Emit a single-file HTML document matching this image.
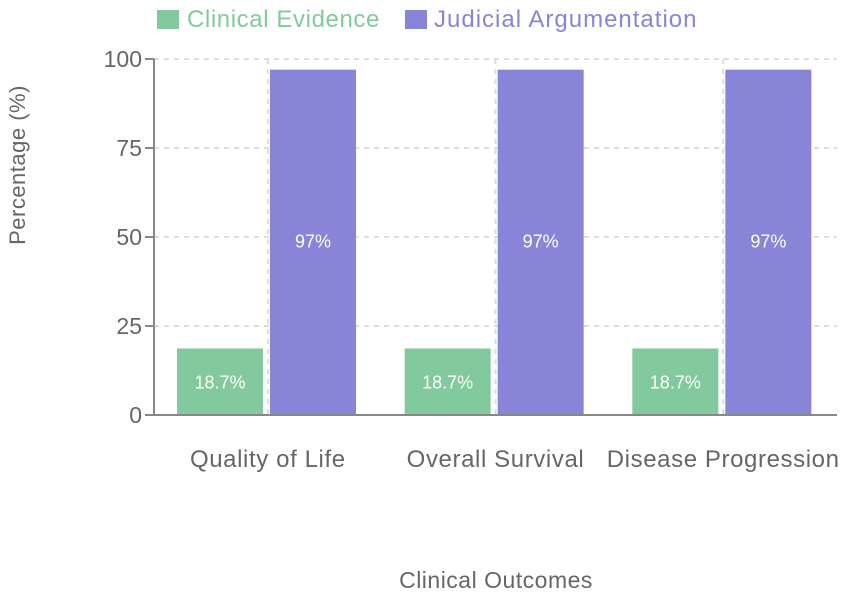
<!DOCTYPE html>
<html><head><meta charset="utf-8"><style>
body{margin:0;background:#fff;width:851px;height:596px;overflow:hidden;font-family:"Liberation Sans",sans-serif}
svg text{font-family:"Liberation Sans",sans-serif}
</style></head><body>
<svg id="chart" width="851" height="596" xmlns="http://www.w3.org/2000/svg">
<g>
<rect x="157" y="10" width="22" height="19" fill="#82ca9d"/>
<text x="187" y="27" font-size="24" letter-spacing="0.6" fill="#82ca9d">Clinical Evidence</text>
<rect x="405" y="10" width="22" height="19" fill="#8884d8"/>
<text x="434" y="27" font-size="24" letter-spacing="1" fill="#8884d8">Judicial Argumentation</text>
</g>
<g id="grid"></g>
<g id="bars"></g>
<g id="axes"></g>
<text transform="translate(25,165) rotate(-90)" text-anchor="middle" font-size="22" letter-spacing="0.5" fill="#666">Percentage (%)</text>
<text x="496" y="588" text-anchor="middle" font-size="23" letter-spacing="0.5" fill="#666">Clinical Outcomes</text>
</svg>
<script>
const categories=["Quality of Life","Overall Survival","Disease Progression"];
const clinicalValues=[18.7,18.7,18.7];
const judicialValues=[97,97,97];
const yTicks=[0,25,50,75,100];
const NS="http://www.w3.org/2000/svg";
const X0=154,X1=837,Y0=415,Y1=59;
const bw=(X1-X0)/categories.length;
function y(v){return Y0-(v-0)/(100-0)*(Y0-Y1);}
function band(i){return X0+i*bw;}
function mk(tag,attrs,parent){const e=document.createElementNS(NS,tag);for(const k in attrs)e.setAttribute(k,attrs[k]);parent.appendChild(e);return e;}
const grid=document.getElementById('grid'),bars=document.getElementById('bars'),axes=document.getElementById('axes');
yTicks.forEach(t=>{
 if(t>0){const l=mk('line',{x1:X0,x2:X1,y1:y(t),y2:y(t),stroke:'#ddd','stroke-width':2,'stroke-dasharray':'5 5'},grid);
 
 }
 const tk=mk('line',{x1:X0-9,x2:X0,y1:y(t),y2:y(t),stroke:'#888','stroke-width':2},axes);
 
 
 const tx=mk('text',{x:X0-12,y:y(t)+8,'text-anchor':'end','font-size':23,fill:'#666'},axes);
 tx.textContent=t;
 
 
});
categories.forEach((c,i)=>{
 const cx=band(i)+bw/2;
 const vl=mk('line',{x1:cx,x2:cx,y1:Y1,y2:Y0,stroke:'#ddd','stroke-width':2,'stroke-dasharray':'5 5'},grid);
 
 
 const w=86;
 const gx=band(i)+23, px=band(i)+116;
 const g=mk('rect',{x:gx,y:y(clinicalValues[i]),width:w,height:Y0-y(clinicalValues[i]),fill:'#82ca9d'},bars);
 
 
 const gt=mk('text',{x:gx+w/2,y:(y(clinicalValues[i])+Y0)/2+7,'text-anchor':'middle','font-size':18,fill:'#fff'},bars);
 gt.textContent=clinicalValues[i]+'%';
 
 
 const p=mk('rect',{x:px,y:y(judicialValues[i]),width:w,height:Y0-y(judicialValues[i]),fill:'#8884d8'},bars);
 
 
 const pt=mk('text',{x:px+w/2,y:(y(judicialValues[i])+Y0)/2+5,'text-anchor':'middle','font-size':18,fill:'#fff'},bars);
 pt.textContent=judicialValues[i]+'%';
 
 
 const xl=mk('text',{x:cx,y:467,'text-anchor':'middle','font-size':24,'letter-spacing':0.6,fill:'#666'},axes);
 xl.textContent=c;
 
 
});
const ya=mk('line',{x1:X0,x2:X0,y1:Y1,y2:Y0+1,stroke:'#888','stroke-width':2},axes);


const xa=mk('line',{x1:X0,x2:X1,y1:Y0,y2:Y0,stroke:'#888','stroke-width':2},axes);


</script>
</body></html>
